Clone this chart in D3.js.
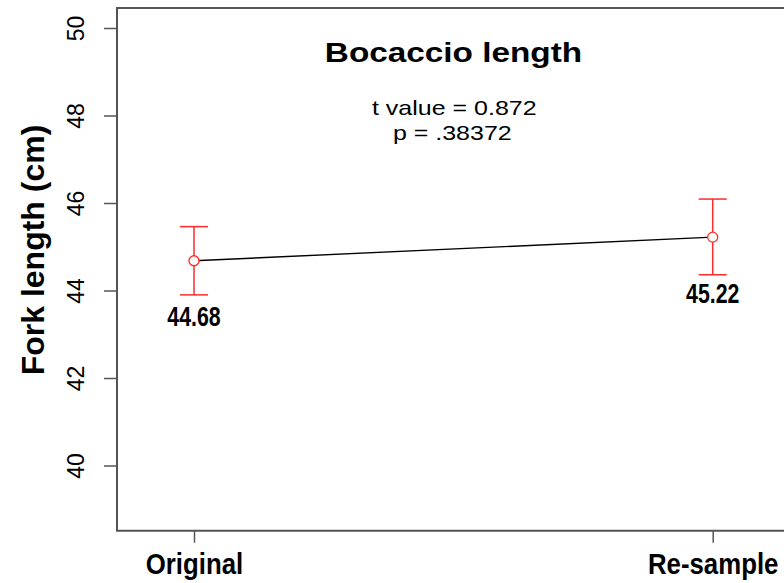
<!DOCTYPE html>
<html>
<head>
<meta charset="utf-8">
<script src="https://cdn.jsdelivr.net/npm/d3@7"></script>
<style>
  body { margin: 0; background: #fff; }
  svg { display: block; }
  text { fill: #000; font-family: "Liberation Sans", Arial, sans-serif; }
</style>
</head>
<body>
<svg id="chart" width="784" height="583"></svg>
<script>
// values
var groups = ["Original", "Re-sample"];
var means = [44.68, 45.22];
var upper = [45.46, 46.09];
var lower = [43.90, 44.36];
var meanLabels = ["44.68", "45.22"];
var yTicks = [40, 42, 44, 46, 48, 50];
var titleText = "Bocaccio length";
var statLines = ["t value = 0.872", "p = .38372"];

var svg = d3.select("#chart");
var axisCol = "#555";

// plot region (the box runs off the right edge)
var boxLeft = 117, boxTop = 8, boxBottom = 530.7, boxRight = 800;

var y = d3.scaleLinear()
    .domain([40, 50])
    .range([465.5, 28]);

var x = d3.scalePoint()
    .domain(groups)
    .range([194, 712.7]);

// frame
svg.append("path")
    .attr("d", "M" + boxRight + "," + boxTop + "H" + boxLeft + "V" + boxBottom + "H" + boxRight)
    .attr("fill", "none")
    .attr("stroke", axisCol)
    .attr("stroke-width", 2);

// y axis
var yAxis = svg.append("g")
    .attr("transform", "translate(" + boxLeft + ",0)")
    .call(d3.axisLeft(y).tickValues(yTicks).tickSize(13).tickSizeOuter(0).tickFormat(d3.format("d")));
yAxis.select(".domain").remove();
yAxis.selectAll(".tick line").attr("stroke", axisCol).attr("stroke-width", 1.5);
yAxis.selectAll(".tick text")
    .attr("x", 0).attr("y", 0).attr("dy", null)
    .attr("transform", "translate(-33,0) rotate(-90)")
    .attr("text-anchor", "middle")
    .attr("fill", "#000")
    .style("font-family", "Liberation Sans, Arial, sans-serif")
    .style("font-size", "23px");

// x axis
var xAxis = svg.append("g")
    .attr("transform", "translate(0," + boxBottom + ")")
    .call(d3.axisBottom(x).tickSize(12).tickSizeOuter(0));
xAxis.select(".domain").remove();
xAxis.selectAll(".tick line").attr("stroke", axisCol).attr("stroke-width", 1.5);
xAxis.selectAll(".tick text")
    .attr("x", 0).attr("y", 0).attr("dy", null)
    .attr("transform", "translate(0,42.8) scale(0.86,1)")
    .attr("fill", "#000")
    .style("font-family", "Liberation Sans, Arial, sans-serif")
    .style("font-weight", "bold")
    .style("font-size", "30px");

// y axis title
svg.append("text")
    .attr("transform", "translate(44,250) rotate(-90)")
    .attr("text-anchor", "middle")
    .style("font-weight", "bold")
    .style("font-size", "32px")
    .text("Fork length (cm)");

// title and stats (picture is stretched sideways a little)
svg.append("text")
    .attr("transform", "translate(453.5,62) scale(1.19,1)")
    .attr("text-anchor", "middle")
    .style("font-weight", "bold")
    .style("font-size", "28px")
    .text(titleText);

var statPos = [[454.3, 114.6], [452.3, 140]];
svg.selectAll(".stat")
    .data(statLines)
    .enter().append("text")
    .attr("class", "stat")
    .attr("transform", function(d, i) {
        return "translate(" + statPos[i][0] + "," + statPos[i][1] + ") scale(1.19,1)"; })
    .attr("text-anchor", "middle")
    .style("font-size", "21px")
    .text(function(d) { return d; });

// line joining the means
var line = d3.line()
    .x(function(d, i) { return x(groups[i]); })
    .y(function(d) { return y(d); });

svg.append("path")
    .datum(means)
    .attr("d", line)
    .attr("fill", "none")
    .attr("stroke", "#000")
    .attr("stroke-width", 1.4);

// error bars
var red = "#ff2a2a";
var capHalf = 14;
var bars = svg.selectAll(".ebar")
    .data(groups)
    .enter().append("g")
    .attr("class", "ebar");

bars.append("line")
    .attr("x1", function(d) { return x(d); })
    .attr("x2", function(d) { return x(d); })
    .attr("y1", function(d, i) { return y(upper[i]); })
    .attr("y2", function(d, i) { return y(lower[i]); })
    .attr("stroke", red).attr("stroke-width", 1.5);

bars.append("line")
    .attr("x1", function(d) { return x(d) - capHalf; })
    .attr("x2", function(d) { return x(d) + capHalf; })
    .attr("y1", function(d, i) { return y(upper[i]); })
    .attr("y2", function(d, i) { return y(upper[i]); })
    .attr("stroke", red).attr("stroke-width", 1.5);

bars.append("line")
    .attr("x1", function(d) { return x(d) - capHalf; })
    .attr("x2", function(d) { return x(d) + capHalf; })
    .attr("y1", function(d, i) { return y(lower[i]); })
    .attr("y2", function(d, i) { return y(lower[i]); })
    .attr("stroke", red).attr("stroke-width", 1.5);

bars.append("circle")
    .attr("cx", function(d) { return x(d); })
    .attr("cy", function(d, i) { return y(means[i]); })
    .attr("r", 5)
    .attr("fill", "#fff")
    .attr("stroke", red).attr("stroke-width", 1.3);

// mean labels
bars.append("text")
    .attr("transform", function(d, i) {
        return "translate(" + x(d) + "," + y(means[i] - 1.5) + ") scale(0.79,1)"; })
    .attr("text-anchor", "middle")
    .style("font-weight", "bold")
    .style("font-size", "27px")
    .text(function(d, i) { return meanLabels[i]; });
</script>
</body>
</html>
